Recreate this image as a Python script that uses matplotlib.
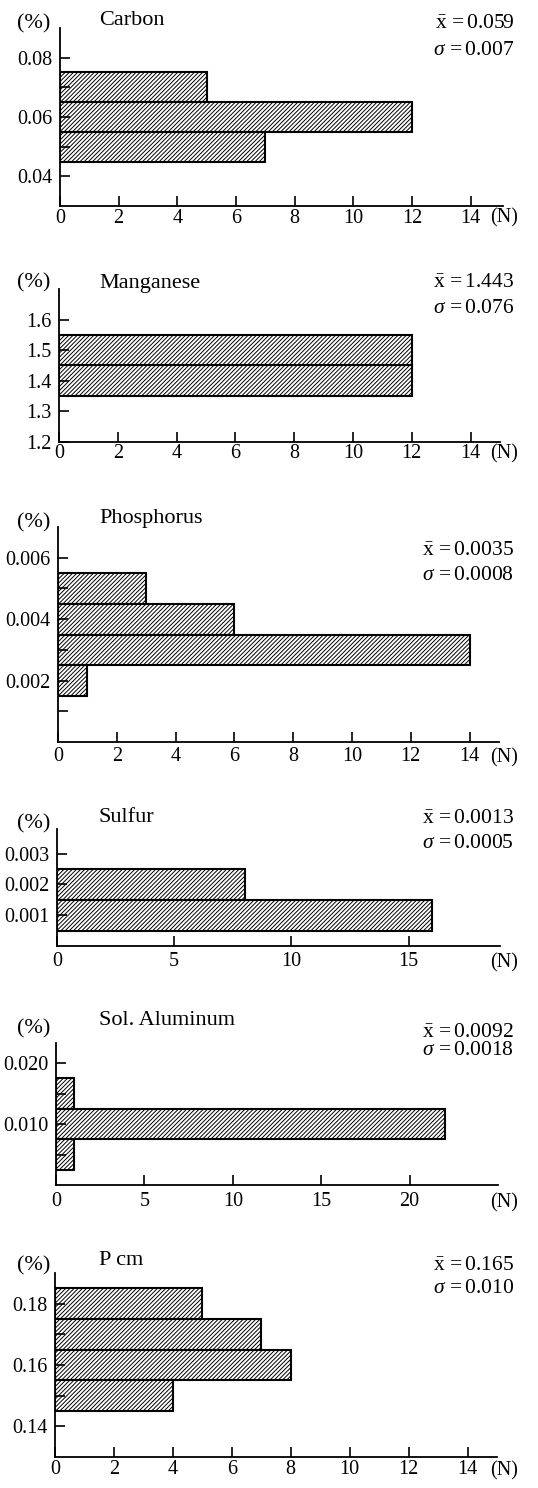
import matplotlib
matplotlib.use('Agg')
import matplotlib.pyplot as plt

W, H = 538, 1488

# ---- data ----
carbon_pct = [0.07, 0.06, 0.05]
carbon_n = [5, 12, 7]
carbon_yticks = [0.04, 0.05, 0.06, 0.07, 0.08]
carbon_ylabels = ['0.04', '', '0.06', '', '0.08']

manganese_pct = [1.5, 1.4]
manganese_n = [12, 12]
manganese_yticks = [1.2, 1.3, 1.4, 1.5, 1.6]
manganese_ylabels = ['1.2', '1.3', '1.4', '1.5', '1.6']

phosphorus_pct = [0.005, 0.004, 0.003, 0.002]
phosphorus_n = [3, 6, 14, 1]
phosphorus_yticks = [0.001, 0.002, 0.003, 0.004, 0.005, 0.006]
phosphorus_ylabels = ['', '0.002', '', '0.004', '', '0.006']

sulfur_pct = [0.002, 0.001]
sulfur_n = [8, 16]
sulfur_yticks = [0.001, 0.002, 0.003]
sulfur_ylabels = ['0.001', '0.002', '0.003']

aluminum_pct = [0.015, 0.010, 0.005]
aluminum_n = [1, 22, 1]
aluminum_yticks = [0.005, 0.010, 0.015, 0.020]
aluminum_ylabels = ['', '0.010', '', '0.020']

pcm_pct = [0.18, 0.17, 0.16, 0.15]
pcm_n = [5, 7, 8, 4]
pcm_yticks = [0.14, 0.15, 0.16, 0.17, 0.18]
pcm_ylabels = ['0.14', '', '0.16', '', '0.18']

xticks_14 = [0, 2, 4, 6, 8, 10, 12, 14]
xticks_15 = [0, 5, 10, 15]
xticks_20 = [0, 5, 10, 15, 20]

names = ['Carbon', 'Manganese', 'Phosphorus', 'Sulfur', 'Sol. Aluminum', 'P cm']
means = ['0.059', '1.443', '0.0035', '0.0013', '0.0092', '0.165']
sigmas = ['0.007', '0.076', '0.0008', '0.0005', '0.0018', '0.010']

plt.rcParams['font.family'] = ['Liberation Serif', 'DejaVu Serif']
plt.rcParams['mathtext.fontset'] = 'custom'
plt.rcParams['mathtext.rm'] = 'Liberation Serif'
plt.rcParams['mathtext.it'] = 'Liberation Serif:italic'
plt.rcParams['hatch.linewidth'] = 0.7

fig = plt.figure(figsize=(W / 100, H / 100), dpi=100)


def px(x, y):
    return x / W, 1 - y / H


# (pct, n, bin width, yticks, ylabels, xticks, ylim, xlim,
#  axes box px (left, top, right, bottom), title y, (%) y, mean y, sigma y,
#  xtick pad, (N) y)
panels = [
    (carbon_pct, carbon_n, 0.01, carbon_yticks, carbon_ylabels, xticks_14,
     (0.03, 0.09), (0, 15.1), (60, 28, 503, 206), 25, 28, 28, 55, 2.0, 218),
    (manganese_pct, manganese_n, 0.1, manganese_yticks, manganese_ylabels, xticks_14,
     (1.2, 1.7), (0, 15.0), (59, 289, 500, 442), 288, 287, 287, 313, 1.5, 454),
    (phosphorus_pct, phosphorus_n, 0.001, phosphorus_yticks, phosphorus_ylabels, xticks_14,
     (0, 0.007), (0, 15.0), (58, 527, 499, 742), 523, 527, 555, 580, 3.5, 758),
    (sulfur_pct, sulfur_n, 0.001, sulfur_yticks, sulfur_ylabels, xticks_15,
     (0, 0.0038), (0, 18.9), (57, 829, 500, 946), 822, 828, 823, 848, 4.3, 963),
    (aluminum_pct, aluminum_n, 0.005, aluminum_yticks, aluminum_ylabels, xticks_20,
     (0, 0.0233), (0, 25.0), (56, 1043, 498, 1185), 1025, 1033, 1037, 1055, 5.0, 1203),
    (pcm_pct, pcm_n, 0.01, pcm_yticks, pcm_ylabels, xticks_14,
     (0.13, 0.19), (0, 15.0), (55, 1273, 497, 1457), 1265, 1270, 1270, 1293, 2.5, 1471),
]

for i, p in enumerate(panels):
    pct, n, bw, yt, yl, xt, ylim, xlim, box, ty, py, my, sy, xpad, ny = p
    l, t, r, b = box
    ax = fig.add_axes([l / W, 1 - b / H, (r - l) / W, (b - t) / H])
    ax.barh(pct, n, height=bw, color='white', edgecolor='black',
            linewidth=1.5, hatch='////////', zorder=1)
    ax.set_xlim(*xlim)
    ax.set_ylim(*ylim)
    ax.set_yticks(yt)
    ax.set_yticklabels(yl)
    ax.set_xticks(xt)
    ax.set_xticklabels([str(v) for v in xt])
    for s in ['top', 'right']:
        ax.spines[s].set_visible(False)
    for s in ['left', 'bottom']:
        ax.spines[s].set_linewidth(1.3)
        ax.spines[s].set_zorder(3)
    ax.tick_params(axis='both', direction='in', length=7, width=1.2,
                   labelsize=14.5, zorder=3)
    ax.tick_params(axis='y', pad=5.5)
    ax.tick_params(axis='x', pad=xpad)
    ax.set_axisbelow(False)

    fig.text(*px(99, ty), names[i], fontsize=16, ha='left', va='baseline')
    fig.text(*px(34, py), '(%)', fontsize=16, ha='center', va='baseline')
    fig.text(*px(514, my), r'$\bar{\mathrm{x}}\,{=}\mathrm{' + means[i] + '}$',
             fontsize=15.5, ha='right', va='baseline')
    fig.text(*px(514, sy), r'$\sigma\,{=}\mathrm{' + sigmas[i] + '}$',
             fontsize=15.5, ha='right', va='baseline')
    fig.text(*px(504, ny), '(N)', fontsize=14.5, ha='center', va='center')

fig.savefig('out.png', dpi=100)
